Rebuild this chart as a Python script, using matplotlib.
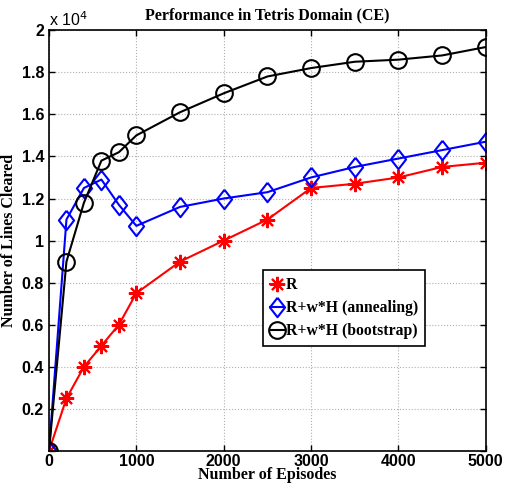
import numpy as np
import matplotlib.pyplot as plt
from matplotlib.ticker import FuncFormatter

# episodes and lines cleared for the three reward setups
episodes = [0, 200, 400, 600, 800, 1000, 1500, 2000, 2500, 3000, 3500, 4000, 4500, 5000]
r_only = [0, 2500, 4000, 5000, 6000, 7500, 9000, 10000, 11000, 12500, 12700, 13000, 13500, 13700]
annealing = [0, 11000, 12500, 12900, 11700, 10700, 11600, 12000, 12300, 13000, 13500, 13900, 14300, 14700]
bootstrap = [0, 9000, 11800, 13800, 14200, 15000, 16100, 17000, 17800, 18200, 18500, 18600, 18800, 19200]

# matlab-ish diamond (taller than wide)
diamond = [(0, 1), (0.78, 0), (0, -1), (-0.78, 0), (0, 1)]

fig = plt.figure(figsize=(5.05, 4.87), dpi=100)
ax = fig.add_axes([0.097, 0.074, 0.865, 0.864])

ax.plot(episodes, r_only, color='red', marker=(8, 2, 0), markersize=11, lw=1.5,
        mew=1.5, label='R')
ax.plot(episodes, annealing, color='blue', marker=diamond, markersize=14, lw=1.5,
        mfc='none', mew=1.5, label='R+w*H (annealing)')
ax.plot(episodes, bootstrap, color='black', marker='o', markersize=12, lw=1.5,
        mfc='none', mew=1.5, label='R+w*H (bootstrap)')

ax.set_xlim(0, 5000)
ax.set_ylim(0, 20000)
ax.set_xticks(np.arange(0, 5001, 1000))
ax.set_yticks(np.arange(0, 20001, 2000))
ax.yaxis.set_major_formatter(FuncFormatter(lambda v, p: '' if v == 0 else '%g' % (v / 1e4)))
ax.grid(True, linestyle=':', color='#b0b0b0', lw=0.8)
ax.tick_params(direction='in', length=4, width=1, top=True, right=True)
ax.tick_params(axis='x', pad=2)
for lab in ax.get_xticklabels() + ax.get_yticklabels():
    lab.set_fontfamily('Liberation Sans')
    lab.set_fontweight('bold')
    lab.set_fontsize(11.5)
for s in ax.spines.values():
    s.set_linewidth(1.2)

ax.text(0.0, 1.003, r'x 10$^4$', transform=ax.transAxes, fontsize=11.5,
        family='Liberation Sans', va='bottom', ha='left')

serif = dict(family='Liberation Serif', weight='bold')
ax.set_title('Performance in Tetris Domain (CE)', fontsize=11.5, pad=8, **serif)
ax.set_xlabel('Number of Episodes', fontsize=11.5, labelpad=-1, **serif)
ax.set_ylabel('Number of Lines Cleared', fontsize=11.5, labelpad=3, **serif)

leg = ax.legend(loc='upper left', bbox_to_anchor=(0.49, 0.43), fancybox=False,
                edgecolor='black', framealpha=1, handlelength=0.9, handletextpad=0.1,
                borderpad=0.45, labelspacing=0.45, borderaxespad=0,
                prop=dict(family='Liberation Serif', weight='bold', size=11.3))
leg.get_frame().set_linewidth(1.2)

fig.savefig('out.png', dpi=100)
